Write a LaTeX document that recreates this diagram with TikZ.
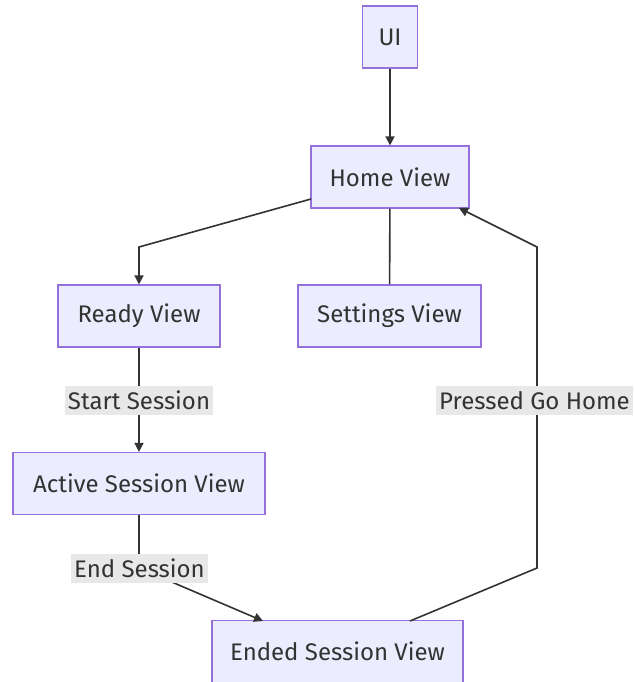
\documentclass[tikz,border=0pt]{standalone}
\usepackage{fontspec}
\setmainfont{Fira Sans}
\usetikzlibrary{arrows.meta}
\definecolor{nodefill}{HTML}{ECECFF}
\definecolor{nodeline}{HTML}{9370DB}
\definecolor{txt}{HTML}{333333}
\definecolor{lblbg}{HTML}{E8E8E8}
\tikzset{
  box/.style={draw=nodeline, fill=nodefill, line width=1.2pt, text=txt, font=\fontsize{24}{28}\selectfont, inner sep=0pt, minimum height=62pt},
  lbl/.style={fill=lblbg, text=txt, font=\fontsize{24}{28}\selectfont, inner sep=0pt, minimum height=29pt},
  edge/.style={draw=txt, line width=1.6pt},
  arr/.style={edge, -{Triangle[length=9pt,width=9pt]}},
}
\begin{document}
\begin{tikzpicture}[x=1pt,y=-1pt]
\useasboundingbox (0,0) rectangle (633,682);
\node[box, minimum width=55pt] (ui) at (390,37) {UI};
\node[box, minimum width=158pt] (home) at (390,177) {Home View};
\node[box, minimum width=162pt] (ready) at (139,316) {Ready View};
\node[box, minimum width=183pt] (settings) at (389.5,316) {Settings View};
\node[box, minimum width=252pt] (active) at (139,483.5) {Active Session View};
\node[box, minimum width=251pt] (ended) at (337.5,651.5) {Ended Session View};
\coordinate (c1) at (139,247);
\coordinate (c2) at (139,568);
\coordinate (c3) at (537,568);
\coordinate (c4) at (537,247);
\draw[arr] (ui) -- (home);
\draw[arr] (311,199) -- (c1) -- (ready);
\draw[edge] (home) -- (settings);
\draw[arr] (ready) -- (active);
\draw[arr] (active) -- (c2) -- (263,621);
\draw[arr] (410,621) -- (c3) -- (c4) -- (459,208);
\node[lbl, minimum width=148pt] (l1) at (139,400.5) {Start Session};
\node[lbl, minimum width=137pt] (l2) at (139.5,568) {End Session};
\node[lbl, minimum width=197pt] (l3) at (534.5,400.5) {Pressed Go Home};
\end{tikzpicture}
\end{document}
